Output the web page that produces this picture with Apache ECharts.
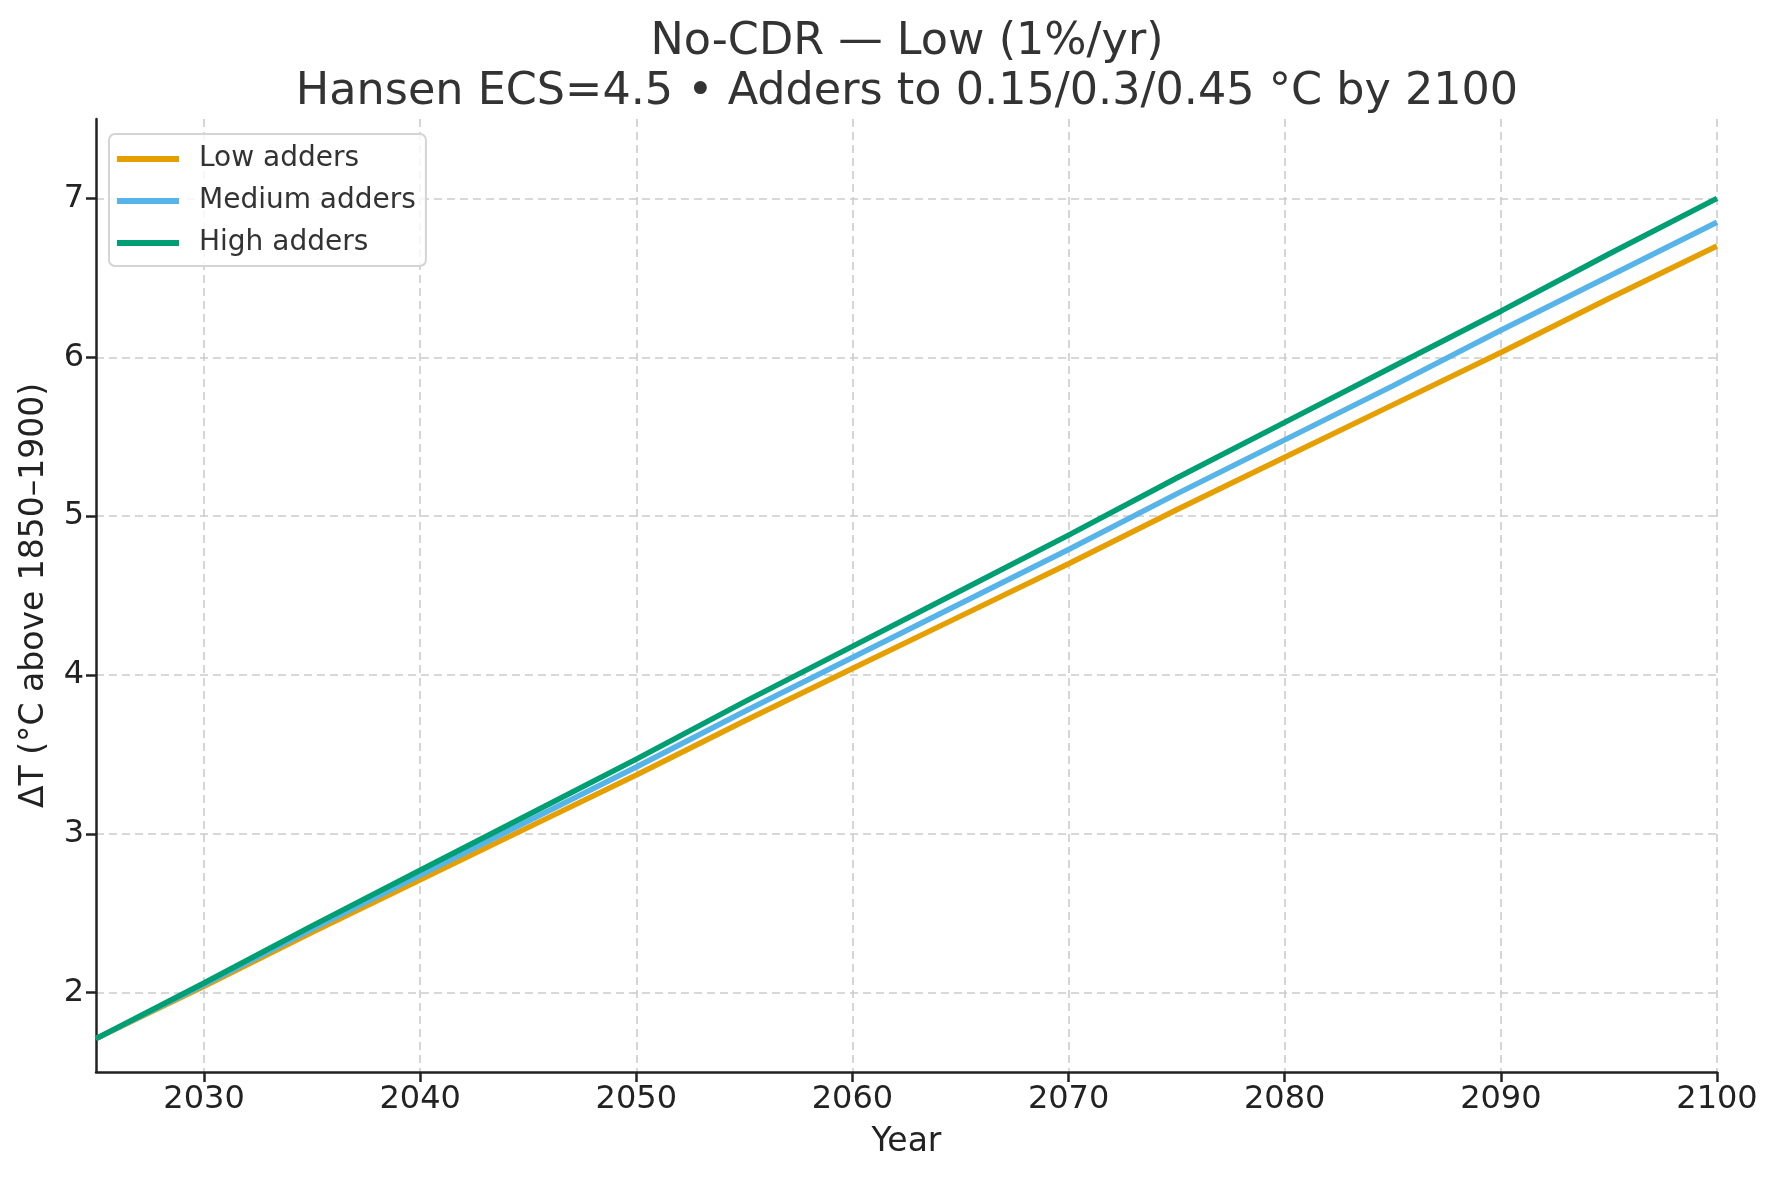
<!DOCTYPE html>
<html>
<head>
<meta charset="utf-8">
<script src="https://cdn.jsdelivr.net/npm/echarts@6/dist/echarts.min.js"></script>
<style>
html,body{margin:0;padding:0;background:#fff;}
#chart{width:1780px;height:1179px;}
</style>
</head>
<body>
<div id="chart"></div>
<script>
const years = [2025,2030,2035,2040,2045,2050,2055,2060,2065,2070,2075,2080,2085,2090,2095,2100];
const lowAdders    = [1.71,2.04,2.38,2.71,3.04,3.37,3.71,4.04,4.37,4.70,5.04,5.37,5.70,6.03,6.37,6.70];
const mediumAdders = [1.71,2.05,2.40,2.74,3.08,3.42,3.77,4.11,4.45,4.79,5.14,5.48,5.82,6.17,6.51,6.85];
const highAdders   = [1.71,2.06,2.42,2.77,3.12,3.47,3.83,4.18,4.53,4.88,5.24,5.59,5.94,6.29,6.65,7.00];
const xTicks = [2030,2040,2050,2060,2070,2080,2090,2100];
const yTicks = [2,3,4,5,6,7];
const seriesNames = ['Low adders','Medium adders','High adders'];
const colors = ['#E69F00','#56B4E9','#009E73'];

const font = 'DejaVu Sans';
const pair = arr => years.map((y,i)=>[y,arr[i]]);
const seriesData = [lowAdders, mediumAdders, highAdders];

const chart = echarts.init(document.getElementById('chart'));
chart.setOption({
  animation:false,
  backgroundColor:'#fff',
  title:{
    text:'No-CDR — Low (1%/yr)\nHansen ECS=4.5 • Adders to 0.15/0.3/0.45 °C by 2100',
    left:902, top:12, textAlign:'center',
    textStyle:{fontFamily:font,fontSize:44.5,fontWeight:'normal',color:'#333',lineHeight:50}
  },
  legend:{
    orient:'vertical', left:109, top:134,
    data:seriesNames,
    icon:'rect', itemWidth:62, itemHeight:6, itemGap:12,
    padding:[10,10,8,8],
    backgroundColor:'rgba(255,255,255,0.8)',
    borderColor:'#d4d4d4', borderWidth:2, borderRadius:6,
    textStyle:{fontFamily:font,fontSize:28,color:'#333',lineHeight:30,padding:[0,0,0,15]}
  },
  grid:{left:96,right:63,top:119,bottom:107,containLabel:false},
  xAxis:{
    type:'value', min:2025, max:2100,
    name:'Year', nameLocation:'middle', nameGap:54,
    nameTextStyle:{fontFamily:font,fontSize:33,color:'#222'},
    axisLine:{show:true,onZero:false,lineStyle:{color:'#222',width:2.5}},
    axisTick:{show:true,inside:false,length:10,lineStyle:{color:'#222',width:2.5},customValues:xTicks},
    axisLabel:{fontFamily:font,fontSize:32,color:'#222',margin:12,customValues:xTicks,formatter:v=>String(v)},
    splitLine:{show:true,lineStyle:{color:'#cccccc',width:1.6,type:[8,5]}}
  },
  yAxis:{
    type:'value', min:1.5, max:7.5,
    name:'ΔT (°C above 1850–1900)', nameLocation:'middle', nameGap:45, nameRotate:90,
    nameTextStyle:{fontFamily:font,fontSize:33,color:'#222'},
    axisLine:{show:true,onZero:false,lineStyle:{color:'#222',width:2.5}},
    axisTick:{show:true,inside:false,length:10,lineStyle:{color:'#222',width:2.5},customValues:yTicks},
    axisLabel:{fontFamily:font,fontSize:32,color:'#222',margin:12,customValues:yTicks,formatter:v=>String(v)},
    splitLine:{show:true,lineStyle:{color:'#cccccc',width:1.6,type:[8,5]}}
  },
  series: seriesNames.map((n,i)=>({
    name:n, type:'line', data:pair(seriesData[i]),
    symbol:'none', showSymbol:false,
    lineStyle:{color:colors[i],width:5.5},
    itemStyle:{color:colors[i]},
    z:2+i
  }))
});
</script>
</body>
</html>
